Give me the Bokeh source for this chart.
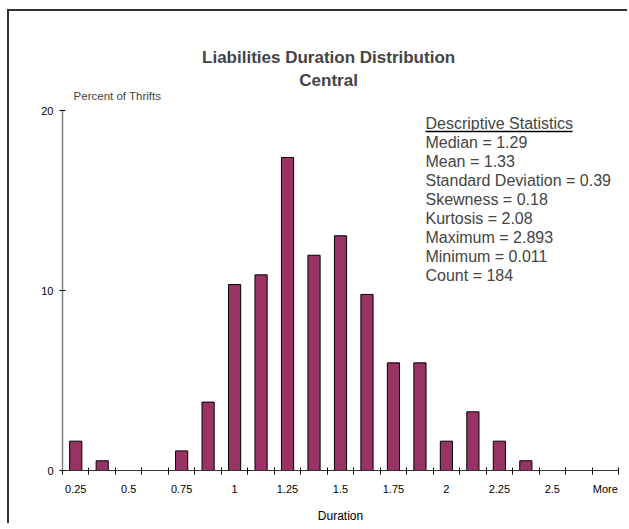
from bokeh.plotting import figure
from bokeh.models import Range1d, FixedTicker, Label, ColumnDataSource
from bokeh.embed import file_html
from bokeh.resources import INLINE

# ---- data ----
bins = ["0.25", "0.375", "0.5", "0.625", "0.75", "0.875", "1", "1.125", "1.25",
        "1.375", "1.5", "1.625", "1.75", "1.875", "2", "2.125", "2.25", "2.375",
        "2.5", "2.625", "More"]
percent = [1.63, 0.54, 0.0, 0.0, 1.09, 3.80, 10.33, 10.87, 17.39, 11.96, 13.04,
           9.78, 5.98, 5.98, 1.63, 3.26, 1.63, 0.54, 0.0, 0.0, 0.0]
y_ticks = [0, 10, 20]
title_lines = ["Liabilities Duration Distribution", "Central"]
y_label = "Percent of Thrifts"
x_label = "Duration"
stats_header = "Descriptive Statistics"
stats_lines = ["Median = 1.29", "Mean = 1.33", "Standard Deviation = 0.39",
               "Skewness = 0.18", "Kurtosis = 2.08", "Maximum = 2.893",
               "Minimum = 0.011", "Count = 184"]

FONT = "Liberation Sans"
n = len(bins)
xs = list(range(n))
PX_X = 556 / n          # pixels per category
PX_Y = 18.0             # pixels per percent unit
Y_TOP = 459 / PX_Y      # data value at canvas top

p = figure(width=620, height=514, output_backend="svg", toolbar_location=None,
           tools="", x_range=Range1d(-0.5, n - 0.5), y_range=Range1d(0, Y_TOP),
           min_border_left=53, min_border_right=11, min_border_top=0,
           min_border_bottom=55)
p.toolbar.logo = None
p.styles = {"margin-left": "9px", "margin-top": "11px",
            "box-shadow": "-2px -2px 0px 0px #333333"}
p.outline_line_color = None
p.xgrid.visible = False
p.ygrid.visible = False
p.background_fill_color = "white"
p.border_fill_color = "white"

src = ColumnDataSource(dict(x=xs, top=percent))
p.vbar(x="x", top="top", width=0.46, bottom=0, source=src,
       fill_color="#993366", line_color="black", line_width=1)

# x axis
xa = p.xaxis[0]
xa.ticker = FixedTicker(ticks=xs[::2], minor_ticks=[i - 0.5 for i in range(n + 1)])
xa.major_label_overrides = {i: bins[i] for i in xs[::2]}
xa.major_tick_out = 0
xa.major_tick_in = 0
xa.minor_tick_out = 4
xa.minor_tick_in = 3
xa.minor_tick_line_color = "black"
xa.axis_line_color = "#333333"
xa.major_label_standoff = 8
xa.major_label_text_font = FONT
xa.major_label_text_font_size = "11px"
xa.major_label_text_color = "black"
xa.axis_label = x_label
xa.axis_label_text_font = FONT
xa.axis_label_text_font_size = "12px"
xa.axis_label_text_font_style = "normal"
xa.axis_label_text_color = "black"
xa.axis_label_standoff = 11

# y axis (line limited to 0..20)
ya = p.yaxis[0]
ya.ticker = FixedTicker(ticks=y_ticks, minor_ticks=[])
ya.bounds = (y_ticks[0], y_ticks[-1])
ya.major_tick_out = 3
ya.major_tick_in = 3
ya.major_tick_line_color = "black"
ya.axis_line_color = "#808080"
ya.axis_line_width = 1.5
ya.major_label_standoff = 6
ya.major_label_text_font = FONT
ya.major_label_text_font_size = "11px"
ya.major_label_text_color = "black"

# titles (positions in data units of the frame)
p.add_layout(Label(x=9.55, y=22.94, text=title_lines[0], text_font=FONT,
                   text_font_size="17px", text_font_style="bold",
                   text_align="center", text_baseline="middle"))
p.add_layout(Label(x=9.55, y=21.67, text=title_lines[1], text_font=FONT,
                   text_font_size="17px", text_font_style="bold",
                   text_align="center", text_baseline="middle"))
p.add_layout(Label(x=-0.08, y=20.78, text=y_label, text_font=FONT,
                   text_font_size="11.5px", text_align="left",
                   text_baseline="middle"))

# descriptive statistics
sx = 13.21
y0 = 19.28
step = 19 / PX_Y
p.add_layout(Label(x=sx, y=y0, text=stats_header, text_font=FONT,
                   text_font_size="16px", text_align="left",
                   text_baseline="middle"))
p.line(x=[sx, sx + 147 / PX_X], y=[y0 - 8 / PX_Y, y0 - 8 / PX_Y],
       line_color="black", line_width=1.5)
for i, s in enumerate(stats_lines):
    p.add_layout(Label(x=sx, y=y0 - (i + 1) * step, text=s, text_font=FONT,
                       text_font_size="16px", text_align="left",
                       text_baseline="middle"))

open("out.html", "w").write(file_html(p, INLINE))
